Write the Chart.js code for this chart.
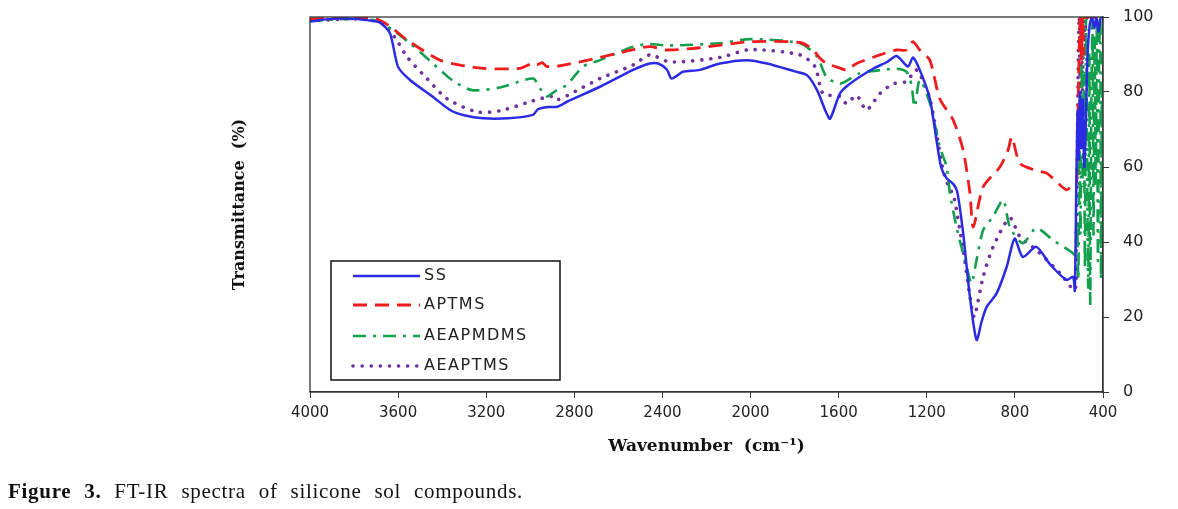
<!DOCTYPE html>
<html lang="en">
<head>
    <meta charset="UTF-8">
    <title>FT-IR spectra of silicone sol compounds</title>
    <script src="https://cdn.jsdelivr.net/npm/chart.js@4"></script>
    <style>
        html, body { margin: 0; padding: 0; background: #fff; }
        #wrap { position: relative; width: 1178px; height: 509px; }
        #caption {
            position: absolute; left: 8px; top: 479px;
            font-family: "Liberation Serif", serif; font-size: 21px; color: #111;
            white-space: nowrap; letter-spacing: 0.7px; word-spacing: 7px;
        }
    </style>
</head>
<body>
<div id="wrap">
    <canvas id="irChart" width="1178" height="509"></canvas>
    <div id="caption"><b>Figure 3.</b> FT-IR spectra of silicone sol compounds.</div>
</div>

<script>
// tick values
const xTicks = [4000, 3600, 3200, 2800, 2400, 2000, 1600, 1200, 800, 400];
const yTicks = [0, 20, 40, 60, 80, 100];

// SS
const waveSS = [4000, 3900, 3800, 3720, 3682, 3637, 3600, 3546, 3442, 3364, 3300, 3215, 3100, 2988, 2965, 2920, 2880, 2860, 2834, 2683, 2533, 2457, 2420, 2380, 2360, 2330, 2307, 2230, 2139, 2016, 1925, 1800, 1744, 1698, 1660, 1639, 1594, 1549, 1444, 1380, 1337, 1285, 1263, 1232, 1186, 1156, 1135, 1110, 1080, 1062, 1035, 1004, 974, 950, 928, 883, 837, 801, 764, 703, 640, 566, 536, 528, 521, 515, 510, 505, 498, 492, 485, 478, 470, 460, 450, 440, 430, 420, 410, 400];
const tSS    = [98.8, 99.5, 99.5, 99, 98.5, 95.7, 86.7, 83.2, 78.7, 75.2, 73.8, 73, 73, 73.9, 75.4, 76, 76, 76.5, 77.4, 81.4, 85.9, 87.6, 87.6, 86, 83.6, 84.5, 85.4, 85.9, 87.6, 88.5, 87.6, 85.5, 84.5, 80.5, 75, 72.9, 79.6, 82.2, 86.2, 88, 89.6, 86.8, 89.2, 85.9, 78.2, 67.2, 60, 57, 55.5, 53.5, 42.4, 25.3, 13.9, 19, 22.7, 26.3, 33.4, 40.9, 36, 38.7, 34, 29.9, 30.7, 27, 55.7, 75, 62, 80, 65, 78, 60, 72, 90, 98, 100, 97, 100, 96, 100, 100];

// APTMS
const waveAPTMS = [4000, 3800, 3700, 3637, 3560, 3410, 3300, 3215, 3047, 2985, 2970, 2945, 2925, 2865, 2683, 2533, 2457, 2379, 2230, 2003, 1776, 1720, 1685, 1655, 1600, 1564, 1519, 1413, 1337, 1292, 1263, 1232, 1186, 1141, 1080, 1035, 1004, 989, 944, 868, 831, 814, 777, 700, 654, 566, 540, 521, 515, 508, 503, 498, 493, 488, 483, 400];
const tAPTMS    = [99.5, 99.8, 99.5, 97.5, 93.9, 88.5, 87, 86.3, 86.3, 87.8, 87.3, 87.8, 86.8, 87, 89.2, 91.3, 92.1, 91.2, 91.8, 93.4, 93.2, 91.5, 89, 87.6, 86.5, 85.9, 87.6, 89.9, 91.2, 91.2, 93.4, 91.2, 88.5, 78.2, 72.5, 64.5, 53, 44, 54.7, 60, 64.5, 68, 61, 59, 58.3, 53.9, 55, 55.6, 70, 92, 100, 88, 100, 90, 100, 100];

// AEAPMDMS
const waveAEAPMDMS = [4000, 3800, 3700, 3623, 3546, 3442, 3350, 3264, 3137, 2988, 2956, 2925, 2880, 2834, 2760, 2683, 2533, 2457, 2379, 2139, 2003, 1776, 1698, 1655, 1594, 1504, 1398, 1337, 1292, 1270, 1255, 1232, 1186, 1141, 1110, 1095, 1065, 1019, 997, 974, 944, 899, 853, 823, 764, 703, 627, 536, 525, 518, 512, 507, 502, 497, 492, 487, 482, 477, 472, 467, 462, 458, 453, 448, 443, 438, 433, 428, 423, 418, 413, 409, 405, 402, 400];
const tAEAPMDMS    = [99, 99.5, 99, 96.5, 93, 87.6, 83, 80.5, 81.2, 83.6, 81, 78.8, 80.5, 81.9, 86.8, 88.5, 92.1, 92.8, 92.4, 93, 94.1, 93, 89.4, 84, 82.2, 85, 85.9, 86.2, 85.4, 82, 76, 83.2, 77, 65.4, 60, 53, 44, 33.4, 29, 35.2, 43.2, 46.8, 51.2, 44, 39.7, 43.7, 40.5, 37, 36, 45, 30, 65, 42, 92, 55, 85, 33, 100, 60, 28, 90, 23, 75, 100, 42, 95, 55, 100, 35, 88, 100, 30, 82, 45, 100];

// AEAPTMS
const waveAEAPTMS = [4000, 3800, 3700, 3668, 3607, 3560, 3469, 3378, 3242, 3137, 3001, 2956, 2900, 2880, 2834, 2683, 2533, 2457, 2366, 2139, 2003, 1776, 1708, 1671, 1594, 1564, 1519, 1474, 1413, 1352, 1292, 1247, 1186, 1126, 1095, 1080, 1035, 997, 984, 944, 899, 823, 777, 703, 595, 528, 522, 517, 513, 508, 503, 498, 493, 488, 480, 472, 400];
const tAEAPTMS    = [99, 99.5, 99, 98.3, 93.9, 89.4, 83.6, 78.2, 74.7, 75, 77.4, 78.2, 78.8, 77.9, 79, 83.6, 87.2, 89.9, 88, 89.2, 91.3, 89.9, 86.8, 79.6, 78.8, 76.9, 79.1, 75.2, 79.6, 82.2, 82.8, 85.9, 78.2, 59.2, 53.9, 53, 37.9, 22.8, 20, 30.7, 38.7, 46.4, 41.4, 37.9, 31.7, 27.2, 40, 62, 85, 100, 75, 96, 80, 100, 92, 100, 100];

function pairs(xs, ys) {
    return xs.map((x, i) => ({ x: x, y: ys[i] }));
}

// frame around the plot area and the boxed legend
const framePlugin = {
    id: 'frame',
    afterDraw(chart) {
        const ctx = chart.ctx;
        const a = chart.chartArea;
        ctx.save();
        ctx.strokeStyle = '#333';
        ctx.lineWidth = 1.3;
        ctx.strokeRect(a.left, a.top, a.right - a.left, a.bottom - a.top);

        // legend box
        const bx = 331, by = 261, bw = 229, bh = 119;
        ctx.fillStyle = '#fff';
        ctx.fillRect(bx, by, bw, bh);
        ctx.strokeStyle = '#111';
        ctx.lineWidth = 1.5;
        ctx.strokeRect(bx, by, bw, bh);
        const rows = [276, 305, 336, 366];
        chart.data.datasets.forEach((ds, i) => {
            const y = rows[i];
            ctx.beginPath();
            ctx.setLineDash(ds.borderDash || []);
            ctx.lineCap = ds.borderCapStyle || 'butt';
            ctx.strokeStyle = ds.borderColor;
            ctx.lineWidth = ds.borderWidth;
            ctx.moveTo(353, y);
            ctx.lineTo(420, y);
            ctx.stroke();
            ctx.setLineDash([]);
            ctx.fillStyle = '#222';
            ctx.font = '16px "DejaVu Sans"';
            ctx.letterSpacing = '1.5px';
            ctx.textBaseline = 'middle';
            ctx.fillText(ds.label, 424, y);
            ctx.letterSpacing = '0px';
        });
        ctx.restore();
    }
};

const ctx = document.getElementById('irChart').getContext('2d');
new Chart(ctx, {
    type: 'line',
    data: {
        datasets: [
            {
                label: 'SS',
                data: pairs(waveSS, tSS),
                borderColor: '#2b2be3',
                borderWidth: 2.5
            },
            {
                label: 'APTMS',
                data: pairs(waveAPTMS, tAPTMS),
                borderColor: '#ee1d1d',
                borderWidth: 2.8,
                borderDash: [14, 8]
            },
            {
                label: 'AEAPMDMS',
                data: pairs(waveAEAPMDMS, tAEAPMDMS),
                borderColor: '#12a04e',
                borderWidth: 2.6,
                borderDash: [13, 7, 3, 7]
            },
            {
                label: 'AEAPTMS',
                data: pairs(waveAEAPTMS, tAEAPTMS),
                borderColor: '#7030a0',
                borderWidth: 3.6,
                borderDash: [0.1, 9],
                borderCapStyle: 'round'
            }
        ]
    },
    options: {
        responsive: false,
        animation: false,
        elements: {
            point: { radius: 0 },
            line: { tension: 0.25, fill: false }
        },
        layout: { padding: { left: 222, top: 17, right: 0, bottom: 0 } },
        plugins: {
            legend: { display: false },
            tooltip: { enabled: false }
        },
        scales: {
            x: {
                type: 'linear',
                position: 'bottom',
                reverse: true,
                min: 400,
                max: 4000,
                afterFit(scale) { scale.height = 117; scale.paddingLeft = 0; scale.paddingRight = 0; },
                afterBuildTicks(scale) { scale.ticks = xTicks.map(v => ({ value: v })); },
                ticks: {
                    color: '#222',
                    font: { family: 'DejaVu Sans', size: 15 },
                    padding: 6,
                    maxRotation: 0,
                    callback: v => String(v)
                },
                grid: { drawOnChartArea: false, drawTicks: true, tickLength: 6, color: '#333' },
                border: { display: true, color: '#333', width: 1.3 },
                title: {
                    display: true,
                    text: 'Wavenumber  (cm\u207B\u00B9)',
                    color: '#111',
                    font: { family: 'DejaVu Serif', size: 17, weight: 'bold' },
                    padding: { top: 0, bottom: 52 }
                }
            },
            y: {
                position: 'right',
                min: 0,
                max: 100,
                afterFit(scale) { scale.width = 75; scale.paddingTop = 0; scale.paddingBottom = 0; },
                afterBuildTicks(scale) { scale.ticks = yTicks.map(v => ({ value: v })); },
                ticks: {
                    color: '#222',
                    font: { family: 'DejaVu Sans', size: 16 },
                    padding: 14,
                    callback: v => String(v)
                },
                grid: { drawOnChartArea: false, drawTicks: true, tickLength: 6, color: '#333' },
                border: { display: true, color: '#333', width: 1.3 }
            },
            yLeft: {
                position: 'left',
                min: 0,
                max: 100,
                afterFit(scale) { scale.width = 88; scale.paddingTop = 0; scale.paddingBottom = 0; },
                ticks: { display: false },
                grid: { display: false },
                border: { display: false },
                title: {
                    display: true,
                    text: 'Transmittance  (%)',
                    color: '#111',
                    font: { family: 'DejaVu Serif', size: 16, weight: 'bold' },
                    padding: { top: 8, bottom: 0 }
                }
            }
        }
    },
    plugins: [framePlugin]
});
</script>
</body>
</html>
